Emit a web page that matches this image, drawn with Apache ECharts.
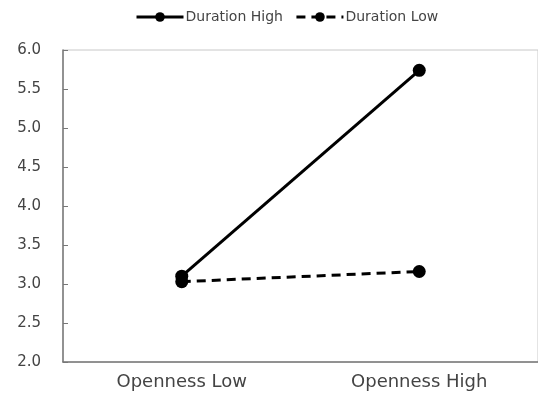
<!DOCTYPE html>
<html>
<head>
<meta charset="utf-8">
<script src="https://cdn.jsdelivr.net/npm/echarts@6/dist/echarts.min.js"></script>
<style>
  html, body { margin: 0; padding: 0; background: #fff; }
  #chart { width: 538px; height: 397px; }
</style>
</head>
<body>
<div id="chart"></div>
<script>
const categories = ['Openness Low', 'Openness High']
const durationHigh = [3.1, 5.74]
const durationLow = [3.03, 3.16]
const yTicks = { min: 2, max: 6, interval: 0.5 }

const chart = echarts.init(document.getElementById('chart'))
const font = 'DejaVu Sans'

chart.setOption({
  animation: false,
  textStyle: { fontFamily: font },
  legend: {
    top: 5,
    left: 130,
    itemWidth: 47,
    itemHeight: 12,
    itemGap: 12,
    lineStyle: { width: 3 },
    textStyle: { fontFamily: font, fontSize: 14, color: '#444', padding: [0, 0, 0, -3] },
    data: ['Duration High', 'Duration Low']
  },
  grid: {
    left: 63, right: -2, top: 50, bottom: 35,
    show: true, borderColor: '#c8c8c8', borderWidth: 1
  },
  xAxis: {
    type: 'category',
    data: categories,
    boundaryGap: true,
    axisLine: { lineStyle: { color: '#777', width: 1.5 } },
    axisTick: { inside: true, length: 5, lineStyle: { color: '#777' } },
    axisLabel: { fontFamily: font, fontSize: 18, color: '#444', margin: 11 }
  },
  yAxis: {
    type: 'value',
    min: yTicks.min, max: yTicks.max, interval: yTicks.interval,
    axisLine: { show: true, lineStyle: { color: '#777', width: 1.5 } },
    axisTick: { show: true, inside: true, length: 5, lineStyle: { color: '#777' } },
    splitLine: { show: false },
    axisLabel: {
      fontFamily: font, fontSize: 15, color: '#444', margin: 22,
      formatter: v => v.toFixed(1)
    }
  },
  series: [
    { name: 'Duration High', data: durationHigh, lineStyle: { type: 'solid' } },
    { name: 'Duration Low', data: durationLow, lineStyle: { type: [9, 6] } }
  ].map(s => ({
    ...s,
    type: 'line',
    symbol: 'circle',
    symbolSize: 13,
    itemStyle: { color: '#000' },
    lineStyle: { ...s.lineStyle, color: '#000', width: 3 }
  }))
})
</script>
</body>
</html>
